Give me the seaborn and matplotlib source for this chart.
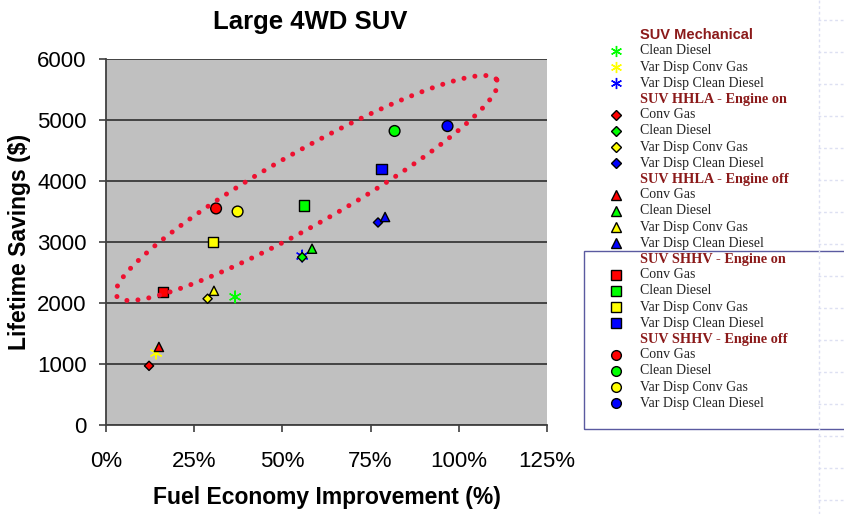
import matplotlib

matplotlib.use("Agg")
import matplotlib.pyplot as plt
import numpy as np
import pandas as pd
import seaborn as sns
from matplotlib.lines import Line2D
from matplotlib.patches import Rectangle
from matplotlib.ticker import FuncFormatter

# fuel / engine options and their colours
fuels = ["Conv Gas", "Clean Diesel", "Var Disp Conv Gas", "Var Disp Clean Diesel"]
fuel_colors = {
    "Conv Gas": "#FF0000",
    "Clean Diesel": "#00FF00",
    "Var Disp Conv Gas": "#FFFF00",
    "Var Disp Clean Diesel": "#0000FF",
}

# fuel economy improvement (%) and lifetime savings ($)
mech_fuels = ["Clean Diesel", "Var Disp Conv Gas", "Var Disp Clean Diesel"]
mech_x = [36.6, 14.2, 55.6]
mech_y = [2100, 1180, 2770]

hhla_on_x = [12.2, 55.6, 28.8, 77.1]
hhla_on_y = [970, 2750, 2070, 3320]

hhla_off_x = [15.0, 58.4, 30.6, 79.1]
hhla_off_y = [1280, 2890, 2200, 3410]

shhv_on_x = [16.1, 56.1, 30.3, 78.1]
shhv_on_y = [2180, 3600, 3000, 4200]

shhv_off_x = [31.2, 81.8, 37.3, 96.8]
shhv_off_y = [3550, 4820, 3500, 4900]

# highlight ellipse: centre and two conjugate half axes, in data units
ell_center = (56.9, 3885)
ell_axis_a = (53.9, 1770)
ell_axis_b = (5.1, -520)

x_ticks = [0, 25, 50, 75, 100, 125]
y_ticks = [0, 1000, 2000, 3000, 4000, 5000, 6000]

# name, fuels, x, y, marker, scatter size, legend marker size
groups = [
    ("SUV Mechanical", mech_fuels, mech_x, mech_y, (6, 2, 0), 70, 8),
    ("SUV HHLA - Engine on", fuels, hhla_on_x, hhla_on_y, "D", 22, 5.5),
    ("SUV HHLA - Engine off", fuels, hhla_off_x, hhla_off_y, "^", 44, 7.5),
    ("SUV SHHV - Engine on", fuels, shhv_on_x, shhv_on_y, "s", 56, 6.5),
    ("SUV SHHV - Engine off", fuels, shhv_off_x, shhv_off_y, "o", 60, 7),
]

sns.set_theme(style="white")
plt.rcParams["font.family"] = ["Liberation Sans", "DejaVu Sans"]
plt.rcParams["text.color"] = "black"
plt.rcParams["axes.labelcolor"] = "black"

W, H = 844, 514
fig = plt.figure(figsize=(W / 100, H / 100), dpi=100)
ax = fig.add_axes([106 / W, 1 - 425 / H, 441 / W, 366 / H])
ax.set_facecolor("#C0C0C0")

for name, fl, xs, ys, marker, size, _ in groups:
    df = pd.DataFrame({"x": xs, "y": ys, "fuel": fl})
    kw = {} if marker == (6, 2, 0) else {"edgecolor": "black"}
    sns.scatterplot(
        data=df, x="x", y="y", hue="fuel", palette=fuel_colors, marker=marker,
        s=size, linewidth=1.0, legend=False, ax=ax, zorder=3, **kw,
    )

# dotted red ellipse drawn over the points
t = np.linspace(0, 2 * np.pi, 600)
ex = ell_center[0] + ell_axis_a[0] * np.cos(t) + ell_axis_b[0] * np.sin(t)
ey = ell_center[1] + ell_axis_a[1] * np.cos(t) + ell_axis_b[1] * np.sin(t)
ax.plot(ex, ey, color="#EE1030", lw=3.6, linestyle=(0, (0.01, 2.2)),
        dash_capstyle="round", zorder=5, clip_on=False)

ax.set_xlim(0, 125)
ax.set_ylim(0, 6000)
ax.set_xticks(x_ticks)
ax.set_yticks(y_ticks)
ax.xaxis.set_major_formatter(FuncFormatter(lambda v, p: f"{v:.0f}%"))
ax.yaxis.grid(True, color="#222222", lw=1.1)
ax.set_axisbelow(True)
for side in ["top", "right"]:
    ax.spines[side].set_visible(False)
for side in ["left", "bottom"]:
    ax.spines[side].set_color("#404040")
    ax.spines[side].set_linewidth(1.3)
ax.tick_params(axis="both", direction="out", length=5, width=1.2, color="#404040",
               labelsize=16, labelcolor="black", bottom=True, left=True)
ax.tick_params(axis="x", pad=14)
ax.tick_params(axis="y", pad=9)

ax.set_xlabel("Fuel Economy Improvement (%)", fontsize=16.5, fontweight="bold", labelpad=10)
ax.set_ylabel("Lifetime Savings ($)", fontsize=16.5, fontweight="bold", labelpad=4)
fig.text(310 / W, 1 - 22 / H, "Large 4WD SUV", ha="center", va="center",
         fontsize=18.5, fontweight="bold")

# hand-built legend to the right, Excel style
head_color = "#8B1A1A"
row = 35
mx, tx = 616, 640
for name, fl, xs, ys, marker, size, lms in groups:
    if name == "SUV Mechanical":
        fig.text(tx / W, 1 - row / H, name, ha="left", va="center", color=head_color,
                 fontsize=10.5, fontweight="bold")
    else:
        fig.text(tx / W, 1 - row / H, name, ha="left", va="center", color=head_color,
                 fontsize=10.3, fontweight="bold", family=["Liberation Serif"])
    row += 16
    for f in fl:
        if marker == (6, 2, 0):
            h = Line2D([mx / W], [1 - row / H], marker=marker, markersize=lms,
                       color=fuel_colors[f], mew=1.0, lw=0, transform=fig.transFigure)
        else:
            h = Line2D([mx / W], [1 - row / H], marker=marker, markersize=lms,
                       markerfacecolor=fuel_colors[f], markeredgecolor="black",
                       mew=1.0, lw=0, transform=fig.transFigure)
        fig.add_artist(h)
        fig.text(tx / W, 1 - row / H, f, ha="left", va="center", color="#222222",
                 fontsize=10, family=["Liberation Serif"])
        row += 16

# partial frame around the lower legend block
fig.add_artist(Rectangle((584 / W, 1 - 429 / H), 270 / W, 178 / H, fill=False,
                         edgecolor="#5A5AA0", lw=1.0, transform=fig.transFigure))

# faint slide grid at the right edge
fig.add_artist(Line2D([819 / W, 819 / W], [0, 1], color="#DDE0F2", lw=1,
                      linestyle=(0, (2, 2)), transform=fig.transFigure))
for yy in range(20, 514, 32):
    fig.add_artist(Line2D([818 / W, 1], [1 - yy / H, 1 - yy / H], color="#DDE0F2",
                          lw=1, linestyle=(0, (2, 2)), transform=fig.transFigure))

fig.savefig("out.png", dpi=100, facecolor="white")
